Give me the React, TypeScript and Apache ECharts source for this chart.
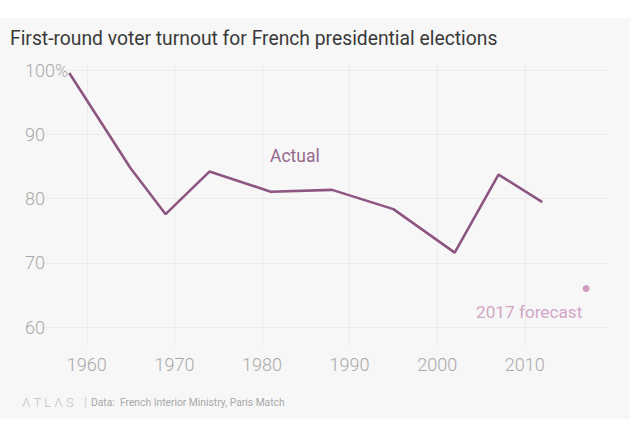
import React, { useEffect, useRef } from "react";
import * as echarts from "echarts";

const years = [1958, 1965, 1969, 1974, 1981, 1988, 1995, 2002, 2007, 2012];
const turnout = [99.6, 84.75, 77.59, 84.23, 81.09, 81.38, 78.38, 71.6, 83.77, 79.48];
const forecastYear = 2017;
const forecastValue = 66;
const titleText = "First-round voter turnout for French presidential elections";
const actualLabel = "Actual";
const forecastLabel = "2017 forecast";
const brandText = "Λ T L Λ S";
const sourceText = "Data:  French Interior Ministry, Paris Match";

export default function App() {
  const ref = useRef<HTMLDivElement>(null);
  useEffect(() => {
    if (!ref.current) return;
    const chart = echarts.init(ref.current, null, { renderer: "svg" });
    const font = "Roboto, 'Liberation Sans', sans-serif";
    chart.setOption({
      animation: false,
      backgroundColor: "#ffffff",
      textStyle: { fontFamily: font },
      grid: { left: 43, right: 22, top: 64, bottom: 95, containLabel: false },
      xAxis: {
        type: "value",
        min: 1955,
        max: 2019.5,
        splitNumber: 6,
        axisLine: { show: false },
        axisTick: { show: false },
        axisLabel: {
          showMinLabel: false,
          showMaxLabel: false,
          color: "#a9a9a9",
          fontSize: 18,
          fontWeight: 300,
          fontFamily: font,
          margin: 10,
          formatter: (v: number) => String(v),
        },
        splitLine: { show: true, showMinLine: false, showMaxLine: false, lineStyle: { color: "#ececec", width: 1 } },
      },
      yAxis: {
        type: "value",
        min: 57.2,
        max: 101,
        splitNumber: 5,
        axisLine: { show: false },
        axisTick: { show: false },
        axisLabel: {
          showMinLabel: false,
          showMaxLabel: false,
          color: "#a9a9a9",
          fontSize: 18,
          fontWeight: 300,
          fontFamily: font,
          align: "left",
          margin: 18,
          formatter: (v: number) => (v === 100 ? "100%" : String(v)),
        },
        splitLine: { show: true, showMinLine: false, showMaxLine: false, lineStyle: { color: "#ececec", width: 1 } },
      },
      series: [
        {
          type: "line",
          data: years.map((y, i) => [y, turnout[i]]),
          showSymbol: false,
          lineStyle: { color: "#8d5682", width: 2.6 },
          itemStyle: { color: "#8d5682" },
          z: 3,
        },
        {
          type: "scatter",
          data: [[forecastYear, forecastValue]],
          symbolSize: 7,
          itemStyle: { color: "#c883b4" },
        },
      ],
      graphic: [
        {
          type: "rect",
          shape: { x: 0, y: 18, width: 630, height: 401 },
          style: { fill: "#f7f7f7" },
          z: -10,
          silent: true,
        },
        {
          type: "text",
          left: 10,
          top: 29,
          style: { text: titleText, fill: "#3a3a3a", fontSize: 19.3, fontFamily: font, fontWeight: 400 },
        },
        {
          type: "text",
          left: 270,
          top: 147,
          style: { text: actualLabel, fill: "#93688b", fontSize: 17.5, fontFamily: font, fontWeight: 400 },
          z: 10,
        },
        {
          type: "text",
          left: 476,
          top: 303,
          style: { text: forecastLabel, fill: "#d2a6c6", fontSize: 17.2, fontFamily: font, fontWeight: 400 },
          z: 10,
        },
        {
          type: "text",
          left: 22,
          top: 396,
          style: { text: brandText, fill: "#c2c2c2", fontSize: 13, fontFamily: font, fontWeight: 300 },
        },
        {
          type: "text",
          left: 84,
          top: 395,
          style: { text: "|", fill: "#d0d0d0", fontSize: 13, fontFamily: font },
        },
        {
          type: "text",
          left: 91,
          top: 397,
          style: { text: sourceText, fill: "#a8a8a8", fontSize: 10.3, fontFamily: font },
        },
      ],
    });
    return () => chart.dispose();
  }, []);
  return (
    <div style={{ position: "absolute", left: 0, top: 0, width: 630, height: 440 }}>
      <div ref={ref} style={{ width: 630, height: 440 }} />
    </div>
  );
}
